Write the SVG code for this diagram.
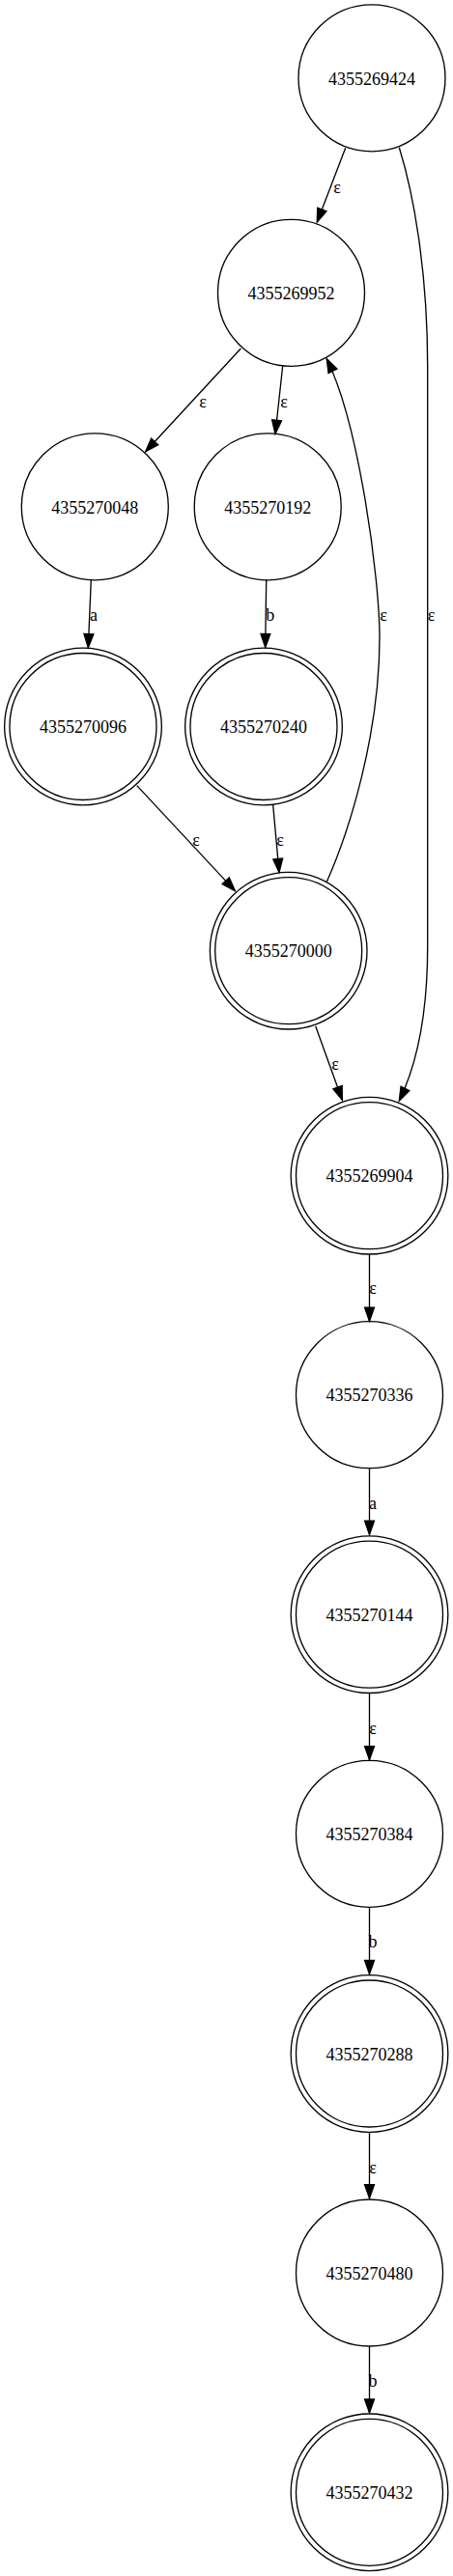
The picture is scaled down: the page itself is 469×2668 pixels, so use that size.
<svg xmlns="http://www.w3.org/2000/svg" width="469" height="2668" viewBox="0 0 469 2668">
<style>
.n ellipse, .n circle { fill: none; stroke: #000; stroke-width: 1.33; }
.n text { font-family: "Liberation Serif", "Times New Roman", serif; font-size: 18px; text-anchor: middle; fill: #000; }
.e path { fill: none; stroke: #000; stroke-width: 1.33; marker-end: url(#arr); }
.e text { font-family: "Liberation Serif", "Times New Roman", serif; font-size: 18px; text-anchor: middle; fill: #000; }
</style>
<defs>
<marker id="arr" markerUnits="userSpaceOnUse" markerWidth="14" markerHeight="10" viewBox="0 0 13.33 9.33" refX="13.33" refY="4.67" orient="auto" overflow="visible">
<path d="M0,0 L13.33,4.67 L0,9.33 z" fill="#000" stroke="#000" stroke-width="1.33"/>
</marker>
</defs>
<rect x="0" y="0" width="469" height="2668" fill="#fff"/>

<g id="connectors" class="e">
<path d="M357.7,153.3 L328.3,230"/>
<text x="349" y="199.5">ε</text>
<path d="M413.3,152.7 C428,200 442.7,280 442.7,380 L442.7,980 C442.7,1060 428,1110 413.3,1140"/>
<text x="446.5" y="643">ε</text>
<path d="M249.3,361 L150.7,467.7"/>
<text x="210" y="421.7">ε</text>
<path d="M292.7,379 L285,449.3"/>
<text x="294" y="421.7">ε</text>
<path d="M338.3,913.3 C362,860 393,760 393,660 C393,600 372,440 338.3,371.7"/>
<text x="397" y="643">ε</text>
<path d="M94.3,600.7 L91.3,670.7"/>
<text x="97" y="643">a</text>
<path d="M275.7,600.7 L274.7,670.5"/>
<text x="279.7" y="643">b</text>
<path d="M141.7,813.6 L243.3,922.6"/>
<text x="203" y="875.5">ε</text>
<path d="M282.7,833.9 L289,903.5"/>
<text x="290" y="875.5">ε</text>
<path d="M326.7,1062.7 L354.3,1139.3"/>
<text x="347" y="1108.3">ε</text>
<path d="M382.5,1298.7 L382.5,1368.3"/>
<text x="386" y="1340">ε</text>
<path d="M382.5,1520.7 L382.5,1589.3"/>
<text x="386" y="1562.7">a</text>
<path d="M382.5,1753.3 L382.5,1822.7"/>
<text x="386" y="1795.7">ε</text>
<path d="M382.5,1975.3 L382.5,2044.5"/>
<text x="386" y="2017.3">b</text>
<path d="M382.5,2208.3 L382.5,2276.7"/>
<text x="386" y="2250.7">ε</text>
<path d="M382.5,2430 L382.5,2499"/>
<text x="386" y="2471.7">b</text>
</g>

<g id="n4355269424" class="n"><circle cx="385" cy="80.8" r="76"/><text x="385" y="87.5">4355269424</text></g>
<g id="n4355269952" class="n"><circle cx="301.5" cy="303.3" r="76"/><text x="301.5" y="310">4355269952</text></g>
<g id="n4355270048" class="n"><circle cx="98.3" cy="524.8" r="76"/><text x="98.3" y="531.5">4355270048</text></g>
<g id="n4355270192" class="n"><circle cx="277.2" cy="524.8" r="76"/><text x="277.2" y="531.5">4355270192</text></g>
<g id="n4355270096" class="n"><circle cx="86" cy="752.5" r="76"/><circle cx="86" cy="752.5" r="81.33"/><text x="86" y="759.2">4355270096</text></g>
<g id="n4355270240" class="n"><circle cx="273" cy="752.5" r="76"/><circle cx="273" cy="752.5" r="81.33"/><text x="273" y="759.2">4355270240</text></g>
<g id="n4355270000" class="n"><circle cx="298.7" cy="984.7" r="76"/><circle cx="298.7" cy="984.7" r="81.33"/><text x="298.7" y="991.4">4355270000</text></g>
<g id="n4355269904" class="n"><circle cx="382.5" cy="1217.7" r="76"/><circle cx="382.5" cy="1217.7" r="81.33"/><text x="382.5" y="1224.4">4355269904</text></g>
<g id="n4355270336" class="n"><circle cx="382.5" cy="1444.7" r="76"/><text x="382.5" y="1451.4">4355270336</text></g>
<g id="n4355270144" class="n"><circle cx="382.5" cy="1672.2" r="76"/><circle cx="382.5" cy="1672.2" r="81.33"/><text x="382.5" y="1678.9">4355270144</text></g>
<g id="n4355270384" class="n"><circle cx="382.5" cy="1899.3" r="76"/><text x="382.5" y="1906">4355270384</text></g>
<g id="n4355270288" class="n"><circle cx="382.5" cy="2127" r="76"/><circle cx="382.5" cy="2127" r="81.33"/><text x="382.5" y="2133.7">4355270288</text></g>
<g id="n4355270480" class="n"><circle cx="382.5" cy="2354" r="76"/><text x="382.5" y="2360.7">4355270480</text></g>
<g id="n4355270432" class="n"><circle cx="382.5" cy="2581.3" r="76"/><circle cx="382.5" cy="2581.3" r="81.33"/><text x="382.5" y="2588">4355270432</text></g>
</svg>
